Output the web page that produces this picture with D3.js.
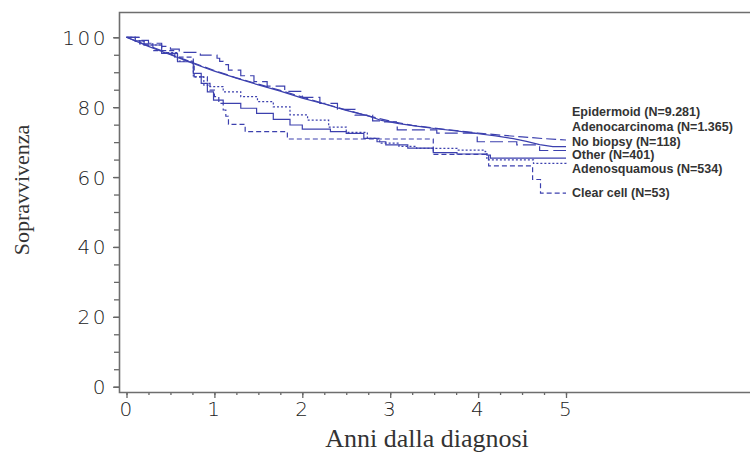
<!DOCTYPE html>
<head>
    <meta charset="utf-8">
    <script src="https://d3js.org/d3.v7.min.js"></script>
    <style>
        *{ margin:0; padding:0; }
        body{ background:#fff; }
        .tick text{ font-family:'DejaVu Sans', sans-serif; font-weight:200; font-size:20px; fill:#222; letter-spacing:2.5px; }
        .tick line{ stroke:#666; stroke-width:1.3; }
        .title{ font-family:'Liberation Serif', 'Times New Roman', serif; font-size:22px; fill:#333; }
        .legend{ font-family:'Liberation Sans Narrow', 'Liberation Sans', Arial, sans-serif; font-weight:bold; font-size:12.5px; fill:#333; }
    </style>
</head>
<body>
<svg id="viz"></svg>
<script>

    // survival curves: [years, % surviving]
    let epidermoid = [[0,100],[0.25,97.6],[0.5,95.2],[0.75,92.8],[1,90.5],[1.25,88.4],[1.5,86.6],[1.75,84.8],[2,82.9],[2.25,81],[2.5,79.2],[2.75,77.5],[3,76],[3.25,74.8],[3.5,74],[3.75,73.3],[4,72.6],[4.25,72],[4.5,71.5],[4.75,71],[5,70.6]];
    let adenocarcinoma = [[0,100],[0.25,97.4],[0.5,95],[0.75,92.6],[1,90.3],[1.25,88.3],[1.5,86.4],[1.75,84.6],[2,82.6],[2.25,80.9],[2.5,79.1],[2.75,77.5],[2.9,76.2],[3.1,75.3],[3.3,74.6],[3.5,73.9],[3.75,73.2],[4,72.4],[4.2,71.8],[4.4,71],[4.55,70.2],[4.7,69.3],[4.85,68.7],[5,68.7]];
    let noBiopsy = [[0,100],[0.15,99.1],[0.25,98.3],[0.4,97.4],[0.5,96.6],[0.6,95.7],[0.84,94.9],[1.03,94],[1.06,93.1],[1.1,92.2],[1.16,90.6],[1.3,89],[1.45,87.3],[1.6,86],[1.8,84.5],[2,82.8],[2.2,81.1],[2.4,79.4],[2.6,77.7],[2.8,76.1],[2.92,75.8],[3.08,73.5],[3.53,72.6],[3.99,70.1],[4.44,69.2],[4.7,67.6],[5,67.6]];
    let other = [[0,100],[0.1,99],[0.2,97.8],[0.4,95.4],[0.58,93],[0.76,89.7],[0.85,86.8],[0.92,84.4],[0.99,82],[1.1,81.1],[1.3,79.7],[1.48,78.2],[1.67,76.5],[1.86,74.9],[2,73.7],[2.32,73],[2.5,72.5],[2.7,71.1],[2.85,70.1],[2.95,69.2],[3.2,68.3],[3.49,67],[3.76,66.6],[4.1,66.3],[4.14,65.4],[5,65.4]];
    let adenosquamous = [[0,100],[0.1,98.9],[0.2,97.8],[0.4,95.6],[0.58,93.2],[0.76,88.7],[0.88,86.3],[0.95,85.9],[1.1,84.4],[1.3,83],[1.49,81.6],[1.67,80.1],[1.86,77.8],[2.06,76.3],[2.3,74.3],[2.5,72.8],[2.74,71.1],[2.88,69.7],[3.1,68.8],[3.3,68.2],[3.76,67.7],[4.08,67.3],[4.1,64.9],[4.63,63.9],[5,63.7]];
    let clearCell = [[0,100],[0.15,98.1],[0.3,96.2],[0.55,94.3],[0.76,92.5],[0.77,88.7],[0.92,86.8],[0.95,84.9],[1,83],[1.05,81.1],[1.1,79.2],[1.13,77.4],[1.16,75.1],[1.35,73],[1.83,70.9],[3.49,66.5],[4.12,63.2],[4.62,59.3],[4.71,55.4],[5,55.4]];

    let labels = ["Epidermoid (N=9.281)", "Adenocarcinoma (N=1.365)", "No biopsy (N=118)", "Other (N=401)", "Adenosquamous (N=534)", "Clear cell (N=53)"];
    let xTicks = [0,1,2,3,4,5];
    let yTicks = [0,20,40,60,80,100];

    let series = [
        {data: epidermoid, dash: "10,4", smooth: true, ly: 112},
        {data: adenocarcinoma, dash: null, smooth: true, ly: 127},
        {data: noBiopsy, dash: "13,5", smooth: false, ly: 141.5},
        {data: other, dash: null, smooth: false, ly: 155},
        {data: adenosquamous, dash: "2,2", smooth: false, ly: 168.5},
        {data: clearCell, dash: "5,3", smooth: false, ly: 192.5}
    ];

    let svg = d3.select("svg").attr("width", 750).attr("height", 455);

    //scales
    let x = d3.scaleLinear().domain([0,5]).range([126.5,566]);
    let y = d3.scaleLinear().domain([0,100]).range([386.7,37.3]);

    let axisColor = "#6e6e6e";

    //minor ticks
    svg.append("g")
        .attr("transform", "translate(119,0)")
        .call(d3.axisLeft(y).tickValues(d3.range(0,101,5)).tickSize(5).tickFormat(""))
        .call(g => g.select(".domain").remove());
    svg.append("g")
        .attr("transform", "translate(0,392)")
        .call(d3.axisBottom(x).tickValues(d3.range(0,5.01,0.25)).tickSize(3).tickFormat(""))
        .call(g => g.select(".domain").remove());

    //major ticks
    svg.append("g")
        .attr("transform", "translate(119,0)")
        .call(d3.axisLeft(y).tickValues(yTicks).tickSize(6).tickPadding(5))
        .call(g => g.select(".domain").remove())
        .selectAll("text").attr("dy", "0.35em");
    svg.append("g")
        .attr("transform", "translate(0,392)")
        .call(d3.axisBottom(x).tickValues(xTicks).tickSize(6).tickPadding(4).tickFormat(d3.format("d")))
        .call(g => g.select(".domain").remove());

    svg.selectAll(".tick line").attr("stroke", axisColor);

    //frame
    svg.append("path")
        .attr("d", "M750,12.5H119.5V392.5H750")
        .attr("fill", "none")
        .attr("stroke", axisColor)
        .attr("stroke-width", 1.6);

    //curves
    let color = "#3c40ae";
    series.forEach(s => {
        let line = d3.line()
            .x(d => x(d[0]))
            .y(d => y(d[1]))
            .curve(s.smooth ? d3.curveLinear : d3.curveStepAfter);
        svg.append("path")
            .datum(s.data)
            .attr("d", line)
            .attr("fill", "none")
            .attr("stroke", color)
            .attr("stroke-width", 1.2)
            .attr("stroke-dasharray", s.dash);
    });

    //legend
    series.forEach((s, i) => {
        svg.append("text")
            .attr("class", "legend")
            .attr("x", 572)
            .attr("y", s.ly)
            .attr("dy", "0.35em")
            .text(labels[i]);
    });

    //axis titles
    svg.append("text")
        .attr("class", "title")
        .attr("text-anchor", "middle")
        .attr("transform", "translate(29,190) rotate(-90)")
        .text("Sopravvivenza");
    svg.append("text")
        .attr("class", "title")
        .attr("text-anchor", "middle")
        .attr("x", 427)
        .attr("y", 447)
        .style("font-size", "26px")
        .text("Anni dalla diagnosi");

</script>
</body>
